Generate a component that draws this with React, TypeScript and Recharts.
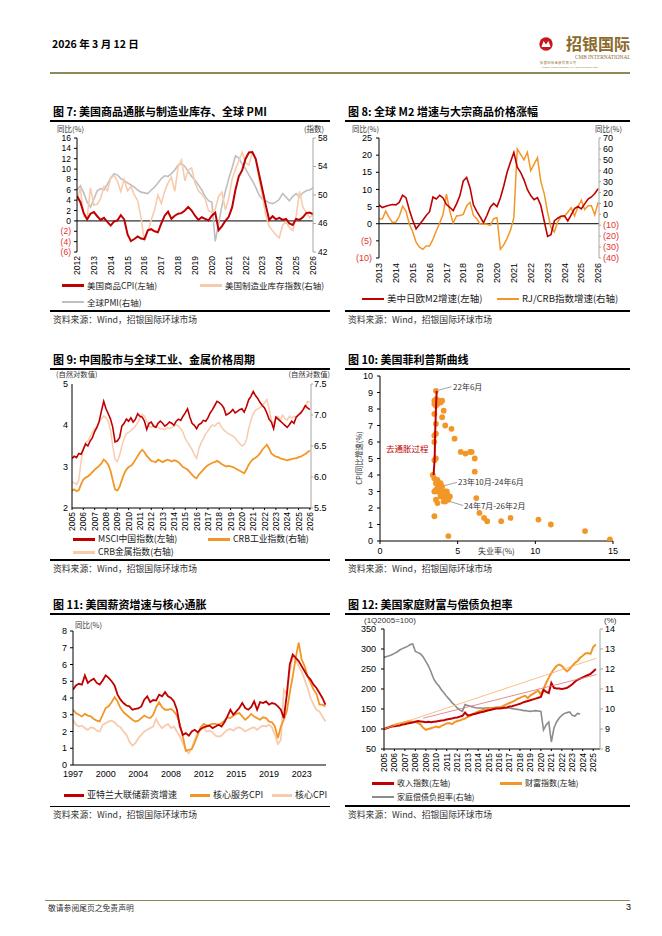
import React from "react";
import { LineChart, Line, XAxis, YAxis, ReferenceLine, ScatterChart, Scatter } from "recharts";

const RED = "#C00000";
const ORANGE = "#F29727";
const PEACH = "#F8CBAD";
const PMI_GRAY = "#BFBFBF";
const DSR_GRAY = "#8C8C8C";
const NEG = "#E3342F";
const AX_GRAY = "#A6A6A6";
const OLIVE = "#8C8A5C";
const NUM = "'Liberation Sans', Arial, sans-serif";
const CJK = "'Noto Sans CJK SC', 'Noto Sans', sans-serif";

// 图7: 2012-2026, step 0.2y
const start7 = 2012;
const step7 = 0.2;
const years7 = [2012, 2013, 2014, 2015, 2016, 2017, 2018, 2019, 2020, 2021, 2022, 2023, 2024, 2025, 2026];
const ticks7L = [-6, -4, -2, 0, 2, 4, 6, 8, 10, 12, 14, 16];
const ticks7R = [42, 46, 50, 54, 58];
const cpiGoods7 = [4.8, 3.6, 1.5, 0.3, 1.4, 1.7, 0.9, 0.2, 0.6, -0.2, -0.9, -0.1, 0.1, 1.1, 0.3, -2.6, -3.9, -3.5, -3.0, -3.4, -3.5, -1.8, -1.6, -2.0, -2.2, -0.5, 1.0, 1.8, 0.4, 1.0, 1.4, 1.5, 2.0, 2.7, 2.0, 1.0, 0.2, 0.7, 0.4, 0.1, 1.0, 1.6, -1.8, -1.0, 0.0, 0.8, 2.6, 6.0, 8.6, 9.8, 12.0, 13.2, 13.3, 12.0, 9.0, 6.0, 3.0, 0.2, 0.9, 0.3, 0.6, 0.2, 0.4, -0.5, -0.8, 0.4, 0.2, 0.7, 1.5, 1.6, 1.3];
const inventory7 = [49.5, 50.9, 47.0, 46.8, 51.0, 48.6, 48.7, 49.5, 51.2, 50.6, 52.3, 52.8, 51.9, 50.5, 52.2, 50.6, 51.2, 50.0, 49.2, 46.8, 43.5, 44.8, 46.5, 47.9, 50.0, 48.8, 50.5, 51.7, 52.5, 50.5, 54.0, 54.9, 52.0, 53.5, 53.8, 51.7, 50.6, 50.1, 49.5, 47.8, 47.6, 48.0, 49.8, 50.4, 47.9, 49.5, 52.2, 53.6, 54.8, 56.0, 54.5, 54.2, 56.0, 55.2, 52.2, 49.8, 47.2, 45.6, 45.0, 44.4, 44.0, 45.8, 46.2, 45.4, 45.0, 47.0, 50.5, 48.3, 47.6, 46.8, 47.3];
const pmi7 = [50.7, 51.3, 50.3, 49.0, 48.3, 49.4, 50.6, 50.9, 50.7, 51.5, 52.4, 53.0, 52.8, 52.3, 52.0, 51.7, 51.4, 51.1, 50.7, 50.4, 50.3, 50.2, 50.7, 51.1, 51.7, 52.3, 52.7, 52.6, 53.0, 53.5, 54.2, 54.4, 54.0, 53.3, 52.6, 52.1, 51.4, 50.7, 49.8, 49.2, 49.0, 43.5, 46.0, 48.5, 50.5, 52.3, 53.8, 55.5, 55.2, 54.3, 53.7, 52.8, 52.0, 51.1, 50.0, 49.4, 49.2, 48.9, 48.8, 49.0, 49.4, 50.2, 49.7, 49.2, 49.8, 50.2, 49.7, 50.3, 50.6, 50.7, 51.0];

// 图8: 2013-2026, step 0.2y
const start8 = 2013;
const step8 = 0.2;
const years8 = [2013, 2014, 2015, 2016, 2017, 2018, 2019, 2020, 2021, 2022, 2023, 2024, 2025, 2026];
const ticks8L = [-10, -5, 0, 5, 10, 15, 20, 25];
const ticks8R = [-40, -30, -20, -10, 0, 10, 20, 30, 40, 50, 60, 70];
const m2Growth8 = [5.5, 4.7, 5.1, 5.4, 5.6, 5.5, 6.2, 8.3, 7.6, 4.0, 1.0, -1.5, -0.2, 1.0, 2.4, 3.5, 7.8, 7.2, 8.3, 7.5, 5.6, 4.8, 3.8, 5.8, 8.2, 12.5, 13.5, 10.5, 5.5, 3.6, 2.0, 0.3, 2.4, 4.8, 5.9, 5.0, 7.5, 11.0, 15.0, 18.0, 20.8, 16.5, 15.0, 12.8, 10.0, 8.2, 7.0, 7.6, 5.3, 0.8, -3.7, -3.2, 0.8, 1.6, 2.2, 2.3, 0.8, 2.6, 4.4, 5.0, 4.3, 5.8, 7.2, 7.8, 8.8, 10.2];
const rjcrb8 = [-4.3, -4.0, 3.0, -3.0, -7.5, -7.0, -2.0, 7.5, 3.0, -9.0, -16.0, -25.5, -30.0, -32.0, -29.0, -29.0, -23.0, -15.0, -8.0, 0.0, 18.5, 3.0, -8.0, -1.5, -1.0, 0.0, 8.0, 11.0, -1.0, -4.0, -9.0, -8.5, -9.0, -10.0, -4.0, -3.0, -32.0, -28.0, -22.0, -14.5, -3.0, 60.0, 55.0, 50.0, 57.0, 40.0, 46.0, 52.0, 30.0, 19.0, 2.0, -12.0, -16.0, -7.0, -2.0, -2.0, 2.0, 6.0, -1.5, 7.0, 13.0, 4.5, 8.0, 8.0, -0.3, 11.0];

// 图9: 2005-2026, step 0.2y
const start9 = 2005;
const step9 = 0.2;
const years9 = [2005, 2006, 2007, 2008, 2009, 2010, 2011, 2012, 2013, 2014, 2015, 2016, 2017, 2018, 2019, 2020, 2021, 2022, 2023, 2024, 2025, 2026];
const ticks9L = [2, 3, 4, 5];
const ticks9R = [5.5, 6.0, 6.5, 7.0, 7.5];
const msci9 = [3.20, 3.25, 3.22, 3.32, 3.30, 3.42, 3.55, 3.50, 3.62, 3.70, 3.85, 3.95, 4.10, 4.35, 4.58, 4.40, 4.28, 4.15, 3.95, 3.60, 3.62, 3.70, 3.98, 4.05, 4.15, 4.10, 4.18, 4.08, 4.15, 4.28, 4.22, 4.20, 4.10, 3.90, 4.05, 4.08, 3.98, 3.95, 4.05, 4.10, 4.05, 3.98, 4.02, 4.08, 4.05, 4.00, 4.10, 4.15, 4.12, 4.22, 4.30, 4.40, 4.20, 4.05, 4.00, 3.92, 4.02, 4.05, 4.12, 4.10, 4.18, 4.30, 4.38, 4.48, 4.58, 4.55, 4.50, 4.42, 4.25, 4.28, 4.32, 4.38, 4.30, 4.34, 4.38, 4.40, 4.32, 4.45, 4.62, 4.70, 4.82, 4.72, 4.65, 4.55, 4.48, 4.42, 4.30, 4.15, 4.08, 3.92, 4.20, 4.15, 4.10, 4.05, 4.00, 3.95, 4.02, 4.10, 4.05, 4.20, 4.25, 4.30, 4.38, 4.48, 4.42, 4.38];
const crbIndustrial9 = [5.78, 5.80, 5.77, 5.79, 5.88, 5.96, 5.99, 6.01, 6.04, 6.08, 6.12, 6.15, 6.18, 6.22, 6.28, 6.25, 6.20, 6.10, 5.95, 5.80, 5.78, 5.84, 5.95, 6.05, 6.12, 6.16, 6.18, 6.22, 6.28, 6.34, 6.40, 6.44, 6.40, 6.34, 6.30, 6.26, 6.25, 6.24, 6.28, 6.26, 6.24, 6.26, 6.28, 6.27, 6.25, 6.27, 6.26, 6.24, 6.20, 6.16, 6.14, 6.12, 6.08, 6.04, 6.00, 5.98, 6.04, 6.08, 6.12, 6.16, 6.19, 6.21, 6.23, 6.24, 6.26, 6.24, 6.21, 6.19, 6.17, 6.18, 6.17, 6.16, 6.14, 6.12, 6.10, 6.08, 6.06, 6.12, 6.20, 6.25, 6.29, 6.31, 6.34, 6.38, 6.44, 6.48, 6.52, 6.46, 6.38, 6.35, 6.33, 6.32, 6.30, 6.29, 6.28, 6.27, 6.28, 6.29, 6.30, 6.30, 6.32, 6.33, 6.35, 6.37, 6.40, 6.43];
const crbMetals9 = [5.92, 5.90, 5.88, 5.95, 6.25, 6.45, 6.55, 6.58, 6.65, 6.72, 6.78, 6.82, 6.88, 6.94, 6.98, 6.96, 6.90, 6.75, 6.50, 6.28, 6.25, 6.35, 6.50, 6.62, 6.70, 6.72, 6.75, 6.78, 6.82, 6.88, 6.95, 7.01, 6.98, 6.90, 6.82, 6.80, 6.84, 6.82, 6.80, 6.78, 6.78, 6.76, 6.80, 6.78, 6.80, 6.82, 6.84, 6.82, 6.78, 6.72, 6.62, 6.56, 6.50, 6.44, 6.36, 6.30, 6.46, 6.55, 6.62, 6.70, 6.74, 6.80, 6.84, 6.82, 6.86, 6.88, 6.80, 6.76, 6.73, 6.70, 6.68, 6.66, 6.63, 6.58, 6.54, 6.50, 6.52, 6.60, 6.78, 6.92, 7.02, 7.08, 7.10, 7.12, 7.15, 7.20, 7.25, 7.10, 6.92, 6.86, 6.96, 6.98, 6.92, 7.00, 6.94, 6.92, 6.98, 6.95, 6.98, 6.97, 7.02, 7.05, 7.08, 7.12, 7.22, 7.20];

// 图10: 菲利普斯曲线散点 (失业率, CPI)
const unemp10 = [3.6, 3.6, 3.8, 4.0, 3.5, 3.6, 3.7, 3.9, 3.5, 4.1, 3.5, 4.0, 3.6, 4.2, 4.6, 3.6, 3.5, 4.8, 3.5, 5.2, 5.5, 5.8, 5.9, 3.6, 3.5, 6.1, 6.1, 3.4, 3.5, 3.7, 3.6, 3.8, 3.9, 3.7, 3.6, 3.8, 3.9, 3.5, 3.7, 4.0, 4.1, 4.2, 4.3, 3.9, 4.0, 4.1, 4.2, 4.3, 4.4, 4.2, 4.4, 4.5, 4.1, 3.6, 3.7, 6.2, 6.4, 6.7, 6.9, 7.8, 8.4, 10.2, 11.0, 13.2, 14.8, 3.5, 4.4, 4.3, 4.0];
const cpi10 = [9.1, 8.6, 8.5, 8.5, 8.3, 8.2, 8.3, 8.4, 8.5, 7.9, 7.7, 7.5, 7.1, 7.0, 6.8, 6.5, 6.4, 6.2, 6.0, 5.4, 5.3, 5.4, 5.4, 5.0, 4.9, 5.0, 4.2, 4.0, 3.8, 3.7, 3.5, 3.4, 3.5, 3.2, 3.1, 3.0, 3.1, 3.0, 3.0, 3.0, 2.9, 3.0, 2.9, 2.7, 2.8, 2.7, 2.6, 2.7, 2.5, 2.4, 2.7, 2.7, 2.4, 2.5, 2.3, 2.6, 1.7, 1.4, 1.2, 1.2, 1.4, 1.3, 1.0, 0.6, 0.1, 1.5, 0.3, 3.0, 3.3];
const pathU10 = [3.65, 3.6, 3.55, 3.52, 3.45];
const pathC10 = [9.1, 8.0, 6.5, 5.0, 4.0];
const ticks10X = [0, 5, 10, 15];
const ticks10Y = [0, 1, 2, 3, 4, 5, 6, 7, 8, 9, 10];

// 图11: 1997 起, 每 4 个月一点
const start11 = 1997;
const step11 = 1 / 3;
const tickPos11 = [1997, 2000.667, 2004.333, 2008, 2011.667, 2015.333, 2019, 2022.667];
const tickLabels11 = ["1997", "2000", "2004", "2008", "2012", "2015", "2019", "2023"];
const ticks11Y = [0, 1, 2, 3, 4, 5, 6, 7, 8];
const wage11 = [4.5, 4.75, 4.85, 4.8, 5.35, 4.9, 5.05, 5.15, 4.9, 4.8, 5.05, 5.35, 5.2, 5.0, 4.75, 4.2, 3.9, 3.7, 3.55, 3.5, 3.3, 3.35, 3.38, 3.5, 3.9, 4.1, 3.75, 3.88, 3.85, 4.2, 4.1, 4.35, 4.1, 4.0, 3.8, 3.3, 2.3, 1.8, 1.9, 1.75, 2.0, 2.1, 1.95, 2.15, 2.25, 2.3, 2.35, 2.2, 2.3, 2.4, 2.3, 2.55, 2.9, 3.3, 3.0, 3.2, 3.4, 3.7, 3.4, 3.3, 3.45, 3.8, 3.3, 3.75, 3.7, 3.8, 3.6, 3.7, 3.65, 3.5, 3.3, 2.8, 4.2, 6.0, 6.6, 6.4, 6.2, 5.9, 5.6, 5.3, 5.1, 4.8, 4.6, 4.3, 4.0, 3.6];
const coreServices11 = [3.3, 3.1, 3.0, 2.9, 3.05, 2.95, 2.9, 2.75, 2.65, 2.6, 3.0, 3.4, 3.5, 3.75, 4.05, 3.8, 3.4, 3.15, 3.0, 2.85, 2.7, 2.6, 2.65, 2.8, 2.95, 2.85, 2.8, 3.0, 3.45, 3.75, 3.45, 3.3, 3.3, 3.35, 3.2, 2.95, 2.45, 1.7, 0.85, 0.9, 0.95, 1.35, 1.8, 2.25, 2.45, 2.35, 2.4, 2.45, 2.45, 2.4, 2.5, 2.65, 2.85, 2.8, 2.95, 3.05, 3.1, 2.9, 2.7, 2.85, 3.05, 2.9, 2.8, 2.7, 2.85, 2.8, 2.6, 2.55, 2.3, 1.6, 2.3, 2.7, 3.2, 4.3, 5.3, 6.4, 7.3, 6.3, 5.9, 5.3, 4.9, 4.5, 4.25, 3.6, 3.6, 3.5];
const coreCpi11 = [2.7, 2.4, 2.3, 2.35, 2.2, 2.1, 2.25, 2.2, 2.05, 2.0, 2.4, 2.5, 2.6, 2.65, 2.55, 2.35, 2.25, 2.0, 1.8, 1.4, 1.15, 1.3, 1.6, 1.8, 2.0, 2.1, 2.2, 2.3, 2.75, 2.4, 2.2, 2.35, 2.45, 2.2, 2.3, 2.0, 1.7, 1.3, 0.9, 0.7, 1.0, 1.5, 1.95, 2.1, 2.25, 2.0, 2.05, 1.95, 1.75, 1.7, 1.75, 1.95, 2.1, 2.15, 2.05, 2.2, 2.25, 2.15, 2.0, 2.1, 2.2, 2.25, 2.1, 2.25, 2.35, 2.3, 2.4, 2.25, 1.8, 1.25, 1.5, 4.5, 4.2, 5.6, 6.4, 6.3, 5.9, 5.6, 5.1, 4.6, 4.0, 3.6, 3.3, 3.2, 2.9, 2.6];

// 图12: 季度, 2005Q1 起
const start12 = 2005;
const step12 = 0.25;
const years12 = [2005, 2006, 2007, 2008, 2009, 2010, 2011, 2012, 2013, 2014, 2015, 2016, 2017, 2018, 2019, 2020, 2021, 2022, 2023, 2024, 2025];
const ticks12L = [50, 100, 150, 200, 250, 300, 350];
const ticks12R = [8, 9, 10, 11, 12, 13, 14];
const income12 = [100, 102, 104, 106, 107, 108, 109, 111, 112, 114, 115, 116, 118, 120, 119, 118, 117, 118, 117, 118, 119, 120, 121, 122, 124, 125, 126, 128, 129, 131, 133, 141, 134, 135, 137, 138, 140, 142, 143, 145, 147, 148, 150, 151, 151, 152, 153, 154, 156, 157, 159, 161, 163, 166, 168, 170, 172, 174, 176, 178, 180, 198, 193, 190, 215, 203, 201, 201, 200, 201, 203, 207, 212, 218, 223, 226, 229, 232, 235, 238, 244, 250];
const wealth12 = [100, 103, 105, 108, 110, 112, 114, 115, 117, 119, 119, 118, 118, 115, 111, 103, 98, 100, 102, 104, 106, 104, 108, 111, 114, 115, 112, 117, 120, 121, 124, 126, 130, 133, 137, 141, 144, 146, 148, 149, 151, 152, 151, 153, 154, 156, 159, 162, 165, 168, 171, 175, 178, 181, 183, 177, 184, 188, 192, 196, 186, 200, 215, 228, 240, 250, 258, 261, 258, 250, 244, 250, 258, 265, 270, 278, 283, 289, 290, 288, 305, 311];
const debtService12 = [12.58, 12.62, 12.66, 12.71, 12.78, 12.85, 12.95, 13.02, 13.08, 13.13, 13.22, 13.25, 12.88, 12.82, 12.75, 12.60, 12.38, 12.15, 11.85, 11.50, 11.30, 11.15, 10.95, 10.80, 10.62, 10.48, 10.32, 10.20, 10.05, 9.95, 9.88, 10.22, 10.18, 10.14, 10.10, 10.06, 10.05, 10.05, 10.04, 10.05, 10.06, 10.05, 10.07, 10.08, 10.08, 10.07, 10.08, 10.06, 10.05, 10.02, 10.00, 9.98, 9.96, 9.93, 9.92, 9.90, 9.88, 9.90, 9.92, 9.90, 9.88, 8.95, 9.20, 9.35, 8.35, 9.05, 9.35, 9.55, 9.68, 9.78, 9.82, 9.85, 9.68, 9.65, 9.78, 9.75];
const wealthTrendX = [2005, 2025.3];
const wealthTrendY = [100, 277];
const incomeTrendX = [2008.75, 2025.3];
const incomeTrendY = [127, 236];

const xAt = (start: number, step: number, i: number) => Math.round((start + i * step) * 1000) / 1000;

const table7 = cpiGoods7.map((v, i) => ({ x: xAt(start7, step7, i), cpi: v, inv: inventory7[i], pmi: pmi7[i] }));
const table8 = m2Growth8.map((v, i) => ({ x: xAt(start8, step8, i), m2: v, crb: rjcrb8[i] }));
const table9 = msci9.map((v, i) => ({ x: xAt(start9, step9, i), msci: v, ind: crbIndustrial9[i], met: crbMetals9[i] }));
const table10 = unemp10.map((u, i) => ({ u, c: cpi10[i] }));
const path10 = pathU10.map((u, i) => ({ u, c: pathC10[i] }));
const table11 = wage11.map((v, i) => ({ x: xAt(start11, step11, i), wage: v, svc: coreServices11[i], core: coreCpi11[i] }));
const table12 = income12.map((v, i) => ({ x: xAt(start12, step12, i), inc: v, wth: wealth12[i], dsr: debtService12[i] }));
const wealthTrend12 = wealthTrendX.map((x, i) => ({ x, v: wealthTrendY[i] }));
const incomeTrend12 = incomeTrendX.map((x, i) => ({ x, v: incomeTrendY[i] }));

const rotTick = (size: number) => (p: any) => (
  <text x={p.x} y={p.y} transform={`rotate(-90 ${p.x} ${p.y})`} textAnchor="end" dy="0.35em" fontSize={size} fontFamily={NUM} fill="#000">
    {p.payload.value}
  </text>
);
const hTick = (size: number, fmt?: (v: number) => string) => (p: any) => (
  <text x={p.x} y={p.y} textAnchor="middle" dy="0.71em" fontSize={size} fontFamily={NUM} fill="#000">
    {fmt ? fmt(p.payload.value) : p.payload.value}
  </text>
);
const yTick = (size: number, neg = false, fmt?: (v: number) => string) => (p: any) => {
  const v = p.payload.value;
  const label = fmt ? fmt(v) : neg && v < 0 ? `(${-v})` : `${v}`;
  return (
    <text x={p.x} y={p.y} dy="0.35em" textAnchor={p.textAnchor} fontSize={size} fontFamily={NUM} fill={neg && v < 0 ? NEG : "#000"}>
      {label}
    </text>
  );
};

const Txt = ({ x, y, size = 8, color = "#222", bold = false, font = CJK, right = false, children }: any) => (
  <div
    style={{
      position: "absolute",
      left: right ? undefined : x,
      right: right ? 662 - x : undefined,
      top: y - size * 0.6,
      fontSize: size,
      lineHeight: `${size * 1.2}px`,
      color,
      fontWeight: bold ? 700 : 400,
      fontFamily: font,
      whiteSpace: "nowrap",
    }}
  >
    {children}
  </div>
);

const Rule = ({ x, y, w, h = 1.2, color = "#000" }: any) => (
  <div style={{ position: "absolute", left: x, top: y - h / 2, width: w, height: h, background: color }} />
);

const Leg = ({ x, y, w = 22, color, thick = 3, label, size = 8.5 }: any) => (
  <>
    <div style={{ position: "absolute", left: x, top: y - thick / 2, width: w, height: thick, background: color }} />
    <Txt x={x + w + 3} y={y} size={size}>{label}</Txt>
  </>
);

const Frame = ({ x, w, titleY, title, srcY, source = "资料来源：Wind，招银国际环球市场" }: any) => (
  <>
    <Txt x={x + 3} y={titleY} size={11} bold color="#000">{title}</Txt>
    <Rule x={x} y={titleY + 9.5} w={w} h={1.3} />
    <Rule x={x} y={srcY} w={w} h={1.3} />
    <Txt x={x + 3} y={srcY + 9} size={8.8} color="#333">{source}</Txt>
  </>
);

const Box = ({ left, top, children }: any) => <div style={{ position: "absolute", left, top }}>{children}</div>;

const blackAxis = { stroke: "#000", strokeWidth: 1 };
const grayAxis = { stroke: AX_GRAY, strokeWidth: 1 };

function Chart7() {
  return (
    <Box left={40} top={130}>
      <LineChart width={303} height={147} data={table7} margin={{ top: 8, right: 0, bottom: 0, left: 0 }}>
        <XAxis type="number" dataKey="x" domain={[2012, 2026]} ticks={years7} interval={0} allowDataOverflow height={25} axisLine={false} tickLine={false} tickSize={0} tickMargin={4} tick={rotTick(8.5)} />
        <YAxis yAxisId="l" domain={[-6, 16]} ticks={ticks7L} interval={0} allowDataOverflow width={37} axisLine={blackAxis} tickLine={blackAxis} tickSize={3} tickMargin={3} tick={yTick(8.5, true)} />
        <YAxis yAxisId="r" orientation="right" domain={[42, 58]} ticks={ticks7R} interval={0} allowDataOverflow width={30} axisLine={grayAxis} tickLine={grayAxis} tickSize={3} tickMargin={2} tick={yTick(8.5)} />
        <ReferenceLine yAxisId="l" y={0} stroke="#000" strokeWidth={1} />
        <Line yAxisId="r" dataKey="pmi" stroke={PMI_GRAY} strokeWidth={1.6} dot={false} isAnimationActive={false} />
        <Line yAxisId="r" dataKey="inv" stroke={PEACH} strokeWidth={1.6} dot={false} isAnimationActive={false} />
        <Line yAxisId="l" dataKey="cpi" stroke={RED} strokeWidth={2} dot={false} isAnimationActive={false} />
      </LineChart>
    </Box>
  );
}

function Chart8() {
  return (
    <Box left={349} top={130}>
      <LineChart width={281} height={153} data={table8} margin={{ top: 8, right: 0, bottom: 0, left: 0 }}>
        <XAxis type="number" dataKey="x" domain={[2013, 2026.05]} ticks={years8} interval={0} allowDataOverflow height={25} axisLine={false} tickLine={false} tickSize={0} tickMargin={5} tick={rotTick(9)} />
        <YAxis yAxisId="l" domain={[-10, 25]} ticks={ticks8L} interval={0} allowDataOverflow width={30} axisLine={blackAxis} tickLine={blackAxis} tickSize={3} tickMargin={4} tick={yTick(9, true)} />
        <YAxis yAxisId="r" orientation="right" domain={[-40, 70]} ticks={ticks8R} interval={0} allowDataOverflow width={31} axisLine={grayAxis} tickLine={grayAxis} tickSize={2} tickMargin={2} tick={yTick(9, true)} />
        <ReferenceLine yAxisId="l" y={0} stroke="#000" strokeWidth={1} />
        <Line yAxisId="r" dataKey="crb" stroke={ORANGE} strokeWidth={1.5} dot={false} isAnimationActive={false} />
        <Line yAxisId="l" dataKey="m2" stroke={RED} strokeWidth={1.6} dot={false} isAnimationActive={false} />
      </LineChart>
    </Box>
  );
}

function Chart9() {
  return (
    <Box left={40} top={376}>
      <LineChart width={301} height={160} data={table9} margin={{ top: 8, right: 0, bottom: 0, left: 0 }}>
        <XAxis type="number" dataKey="x" domain={[2005, 2026.1]} ticks={years9} interval={0} allowDataOverflow height={28} axisLine={blackAxis} tickLine={blackAxis} tickSize={2} tickMargin={2} tick={rotTick(8.5)} />
        <YAxis yAxisId="l" domain={[2, 5]} ticks={ticks9L} interval={0} allowDataOverflow width={32} axisLine={blackAxis} tickLine={false} tickSize={2} tickMargin={2} tick={yTick(9)} />
        <YAxis yAxisId="r" orientation="right" domain={[5.5, 7.5]} ticks={ticks9R} interval={0} allowDataOverflow width={30} axisLine={grayAxis} tickLine={grayAxis} tickSize={2} tickMargin={1} tick={yTick(9, false, (v) => v.toFixed(1))} />
        <Line yAxisId="r" dataKey="met" stroke={PEACH} strokeWidth={1.5} dot={false} isAnimationActive={false} />
        <Line yAxisId="r" dataKey="ind" stroke={ORANGE} strokeWidth={1.8} dot={false} isAnimationActive={false} />
        <Line yAxisId="l" dataKey="msci" stroke={RED} strokeWidth={1.6} dot={false} isAnimationActive={false} />
      </LineChart>
    </Box>
  );
}

function Chart10() {
  const dot = (p: any) => <circle cx={p.cx} cy={p.cy} r={2.9} fill={ORANGE} />;
  const noDot = () => <g />;
  return (
    <Box left={358} top={368}>
      <ScatterChart width={270} height={191} margin={{ top: 8, right: 15, bottom: 0, left: 0 }}>
        <XAxis type="number" dataKey="u" domain={[0, 15]} ticks={ticks10X} interval={0} allowDataOverflow height={18} axisLine={blackAxis} tickLine={blackAxis} tickSize={3} tickMargin={4} tick={hTick(9)} />
        <YAxis type="number" dataKey="c" domain={[0, 10]} ticks={ticks10Y} interval={0} allowDataOverflow width={22} axisLine={blackAxis} tickLine={blackAxis} tickSize={3} tickMargin={4} tick={yTick(9)} />
        <ReferenceLine segment={[{ x: 3.8, y: 9.15 }, { x: 4.6, y: 9.35 }]} stroke="#8C8C8C" strokeWidth={0.8} />
        <ReferenceLine segment={[{ x: 4.95, y: 3.55 }, { x: 3.9, y: 3.3 }]} stroke="#8C8C8C" strokeWidth={0.8} />
        <ReferenceLine segment={[{ x: 5.35, y: 2.15 }, { x: 4.3, y: 2.45 }]} stroke="#8C8C8C" strokeWidth={0.8} />
        <Scatter data={table10} shape={dot} isAnimationActive={false} />
        <Scatter data={path10} line={{ stroke: RED, strokeWidth: 2 }} shape={noDot} isAnimationActive={false} />
      </ScatterChart>
    </Box>
  );
}

function Chart11() {
  const label11 = (v: number) => tickLabels11[tickPos11.indexOf(v)] ?? `${v}`;
  return (
    <Box left={40} top={623}>
      <LineChart width={290} height={160} data={table11} margin={{ top: 8, right: 4, bottom: 0, left: 0 }}>
        <XAxis type="number" dataKey="x" domain={[1997, 2025.4]} ticks={tickPos11} interval={0} allowDataOverflow height={18} axisLine={blackAxis} tickLine={false} tickSize={0} tickMargin={6} tick={hTick(9, label11)} />
        <YAxis domain={[0, 8]} ticks={ticks11Y} interval={0} allowDataOverflow width={33} axisLine={blackAxis} tickLine={blackAxis} tickSize={3} tickMargin={3} tick={yTick(9)} />
        <Line dataKey="core" stroke={PEACH} strokeWidth={1.8} dot={false} isAnimationActive={false} />
        <Line dataKey="svc" stroke={ORANGE} strokeWidth={1.8} dot={false} isAnimationActive={false} />
        <Line dataKey="wage" stroke={RED} strokeWidth={1.8} dot={false} isAnimationActive={false} />
      </LineChart>
    </Box>
  );
}

function Chart12() {
  return (
    <Box left={350} top={621}>
      <LineChart width={278} height={156} data={table12} margin={{ top: 8, right: 0, bottom: 0, left: 0 }}>
        <XAxis type="number" dataKey="x" domain={[2005, 2025.65]} ticks={years12} interval={0} allowDataOverflow height={28} axisLine={blackAxis} tickLine={blackAxis} tickSize={2} tickMargin={2} tick={rotTick(8.5)} />
        <YAxis yAxisId="l" domain={[50, 350]} ticks={ticks12L} interval={0} allowDataOverflow width={34} axisLine={blackAxis} tickLine={blackAxis} tickSize={3} tickMargin={5} tick={yTick(9)} />
        <YAxis yAxisId="r" orientation="right" domain={[8, 14]} ticks={ticks12R} interval={0} allowDataOverflow width={28} axisLine={grayAxis} tickLine={grayAxis} tickSize={3} tickMargin={2} tick={yTick(9)} />
        <Line yAxisId="r" dataKey="dsr" stroke={DSR_GRAY} strokeWidth={1.6} dot={false} isAnimationActive={false} />
        <Line yAxisId="l" dataKey="wth" stroke={ORANGE} strokeWidth={2} dot={false} isAnimationActive={false} />
        <Line yAxisId="l" dataKey="inc" stroke={RED} strokeWidth={2} dot={false} isAnimationActive={false} />
        <Line yAxisId="l" data={wealthTrend12} dataKey="v" stroke="#F5B06A" strokeWidth={0.8} dot={false} isAnimationActive={false} />
        <Line yAxisId="l" data={incomeTrend12} dataKey="v" stroke="#E0707A" strokeWidth={0.8} dot={false} isAnimationActive={false} />
      </LineChart>
    </Box>
  );
}

export default function App() {
  return (
    <div style={{ position: "absolute", left: 0, top: 0, width: 662, height: 936, background: "#fff", overflow: "hidden" }}>
      {/* 页眉 */}
      <Txt x={52} y={44} size={10.5} bold color="#000">2026 年 3 月 12 日</Txt>
      <svg style={{ position: "absolute", left: 539, top: 37.3 }} width={14} height={14}>
        <circle cx={7} cy={7} r={6.7} fill="#C8161D" />
        <path d="M2.4 10 L4.6 4 L7 7.6 L9.4 4 L11.6 10 Z" fill="#fff" />
      </svg>
      <Txt x={566} y={43.5} size={16} bold color="#8B6A2B">招银国际</Txt>
      <Txt x={575} y={57} size={5.3} color="#8B6A2B" font="'Liberation Serif', serif">CMB INTERNATIONAL</Txt>
      <Txt x={540} y={63.5} size={3} color="#8B6A2B">招 银 国 际 金 融 有 限 公 司</Txt>
      <Txt x={540} y={67.2} size={2.6} color="#8B6A2B" font="'Liberation Serif', serif">A Wholly Owned Subsidiary Of China Merchants Bank</Txt>
      <Rule x={50} y={73} w={580} h={2} color={OLIVE} />

      {/* 图7 */}
      <Frame x={50} w={280} titleY={111.5} title="图 7: 美国商品通胀与制造业库存、全球 PMI" srcY={311} />
      <Txt x={57} y={128} size={7.5} color="#333">同比(%)</Txt>
      <Txt x={324} y={128} size={7.5} color="#333" right>(指数)</Txt>
      <Chart7 />
      <Leg x={62} y={285} color={RED} label="美国商品CPI(左轴)" />
      <Leg x={200} y={285} color={PEACH} label="美国制造业库存指数(右轴)" />
      <Leg x={62} y={302} color={PMI_GRAY} thick={1.5} label="全球PMI(右轴)" />

      {/* 图8 */}
      <Frame x={345} w={285} titleY={111.5} title="图 8: 全球 M2 增速与大宗商品价格涨幅" srcY={311} />
      <Txt x={352} y={128} size={7.5} color="#333">同比(%)</Txt>
      <Txt x={622} y={128} size={7.5} color="#333" right>同比(%)</Txt>
      <Chart8 />
      <Leg x={362} y={299} color={RED} thick={1.8} size={9.5} label="美中日欧M2增速(左轴)" />
      <Leg x={497} y={299} color={ORANGE} thick={1.8} size={9.5} label="RJ/CRB指数增速(右轴)" />

      {/* 图9 */}
      <Frame x={50} w={280} titleY={359.5} title="图 9: 中国股市与全球工业、金属价格周期" srcY={560} />
      <Txt x={56} y={374.3} size={7.3} color="#333">(自然对数值)</Txt>
      <Txt x={330} y={374.3} size={7.3} color="#333" right>(自然对数值)</Txt>
      <Chart9 />
      <Leg x={73} y={539} color={RED} size={8.8} label="MSCI中国指数(左轴)" />
      <Leg x={208} y={539} color={ORANGE} size={8.8} label="CRB工业指数(右轴)" />
      <Leg x={73} y={552} color={PEACH} size={8.8} label="CRB金属指数(右轴)" />

      {/* 图10 */}
      <Frame x={345} w={285} titleY={359.5} title="图 10: 美国菲利普斯曲线" srcY={560} />
      <Chart10 />
      <div style={{ position: "absolute", left: 358, top: 458, transform: "translate(-50%, -50%) rotate(-90deg)", fontSize: 7.5, lineHeight: "9px", fontFamily: CJK, color: "#333", whiteSpace: "nowrap" }}>
        CPI同比增速(%)
      </div>
      <Txt x={478} y={551} size={8} color="#333">失业率(%)</Txt>
      <Txt x={453} y={387} size={8} color="#333">22年6月</Txt>
      <Txt x={386} y={448} size={8.5} color={RED}>去通胀过程</Txt>
      <Txt x={458} y={482} size={8} color="#333">23年10月-24年6月</Txt>
      <Txt x={464} y={506} size={8} color="#333">24年7月-26年2月</Txt>

      {/* 图11 */}
      <Frame x={50} w={280} titleY={604.5} title="图 11: 美国薪资增速与核心通胀" srcY={806.5} />
      <Txt x={75} y={624} size={7.5} color="#333">同比(%)</Txt>
      <Chart11 />
      <Leg x={64} y={795} color={RED} w={20} size={9} label="亚特兰大联储薪资增速" />
      <Leg x={190} y={795} color={ORANGE} w={20} size={9} label="核心服务CPI" />
      <Leg x={272} y={795} color={PEACH} w={20} size={9} label="核心CPI" />

      {/* 图12 */}
      <Frame x={345} w={285} titleY={604.5} title="图 12: 美国家庭财富与偿债负担率" srcY={806} source="资料来源：Wind、招银国际环球市场" />
      <Txt x={364} y={621} size={8} color="#333" font={NUM}>(1Q2005=100)</Txt>
      <Txt x={604} y={621} size={8} color="#333" font={NUM}>(%)</Txt>
      <Chart12 />
      <Leg x={372} y={783} color={RED} size={8} label="收入指数(左轴)" />
      <Leg x={500} y={783} color={ORANGE} size={8} label="财富指数(左轴)" />
      <Leg x={372} y={797} color={DSR_GRAY} thick={2} size={8} label="家庭偿债负担率(右轴)" />

      {/* 页脚 */}
      <Rule x={45} y={900} w={585} h={1} color={OLIVE} />
      <Txt x={48} y={907.7} size={7.8} color="#333">敬请参阅尾页之免责声明</Txt>
      <Txt x={631} y={907.7} size={9} color="#000" font={NUM} right>3</Txt>
    </div>
  );
}
